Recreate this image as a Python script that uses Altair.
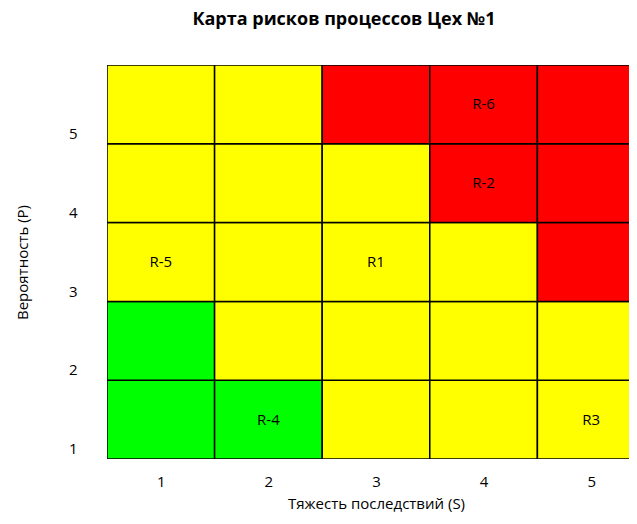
import altair as alt
import pandas as pd

# --- data ---
severity = [1, 2, 3, 4, 5]           # S (x)
probability = [1, 2, 3, 4, 5]        # P (y)
# zone per row of probability (P=1 .. P=5), columns S=1..5
zones = [
    ["G", "G", "Y", "Y", "Y"],   # P=1
    ["G", "Y", "Y", "Y", "Y"],   # P=2
    ["Y", "Y", "Y", "Y", "R"],   # P=3
    ["Y", "Y", "Y", "R", "R"],   # P=4
    ["Y", "Y", "R", "R", "R"],   # P=5
]
risk_names = ["R1", "R-2", "R3", "R-4", "R-5", "R-6"]
risk_s = [3, 4, 5, 2, 1, 4]
risk_p = [3, 4, 1, 1, 3, 5]

zone_colors = {"G": "#00FF00", "Y": "#FFFF00", "R": "#FF0000"}

rows = []
for pi, p in enumerate(probability):
    for si, s in enumerate(severity):
        rows.append({"S": s, "P": p, "S0": s - 0.5, "S1": s + 0.5,
                     "P0": p - 0.5, "P1": p + 0.5, "zone": zones[pi][si]})
cells = pd.DataFrame(rows)
risks = pd.DataFrame({"name": risk_names, "S": risk_s, "P": risk_p})

FONT = "Open Sans"
PLOT_W = 522
COL_W = 107.6

# visible plot keeps 107.6px columns: the right column is cut off
xscale = alt.Scale(domain=[0.5, 0.5 + PLOT_W / COL_W], nice=False, zero=False)
yscale = alt.Scale(domain=[0.5, 5.5], nice=False, zero=False)

base_rect = alt.Chart(cells).mark_rect(stroke="black", strokeWidth=1.5, clip=True).encode(
    x=alt.X("S0:Q", scale=xscale,
            axis=alt.Axis(values=severity, format="d", title="Тяжесть последствий (S)",
                          grid=False, ticks=False, domain=False, labelPadding=15,
                          labelFontSize=15, titleFontSize=15, titleFontWeight="normal",
                          titlePadding=19, titleBaseline="alphabetic",
                          labelFont=FONT, titleFont=FONT,
                          labelColor="black", titleColor="black",
                          titleX=269, titleAnchor="middle")),
    x2="S1:Q",
    y=alt.Y("P0:Q", scale=yscale,
            axis=alt.Axis(values=probability, format="d", title="Вероятность (P)",
                          grid=False, ticks=False, domain=False, labelPadding=30,
                          labelOffset=29, labelFontSize=15, titleFontSize=15,
                          titleFontWeight="normal", titlePadding=38,
                          labelFont=FONT, titleFont=FONT,
                          labelColor="black", titleColor="black")),
    y2="P1:Q",
    color=alt.Color("zone:N", scale=alt.Scale(domain=list(zone_colors.keys()),
                                             range=list(zone_colors.values())),
                    legend=None),
)

labels = alt.Chart(risks).mark_text(fontSize=15, font=FONT, color="black").encode(
    x=alt.X("S:Q", scale=xscale),
    y=alt.Y("P:Q", scale=yscale),
    text="name:N",
)

chart = (base_rect + labels).properties(
    width=PLOT_W, height=394,
    title=alt.TitleParams("Карта рисков процессов Цех №1", fontSize=18,
                          font=FONT, fontWeight="bold", color="black",
                          anchor="middle", dx=-24, offset=36),
    autosize=alt.AutoSizeParams(type="none"),
    padding={"left": 99, "top": 57, "right": 0, "bottom": 56},
).configure_view(stroke=None)

chart.save("out.html", embed_options={"renderer": "svg", "actions": False})
